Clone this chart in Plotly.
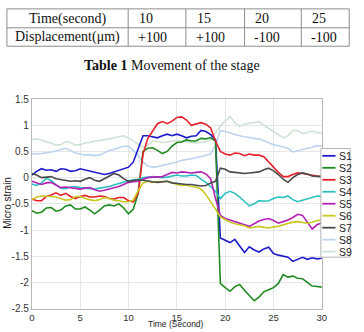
import plotly.graph_objects as go

# ---------------- data ----------------
time_s = [i * 0.5 for i in range(61)]

s1 = [0.05, 0.12, 0.17, 0.14, 0.15, 0.12, 0.17, 0.16, 0.12, 0.13, 0.17, 0.15, 0.13, 0.11, 0.09, 0.06,
      0.08, 0.11, 0.13, 0.17, 0.20, 0.30, 0.55, 0.80, 0.80, 0.78, 0.76, 0.80, 0.83, 0.80, 0.83, 0.80,
      0.76, 0.79, 0.80, 0.90, 0.88, 0.82, 0.72, -1.15, -1.20, -1.24, -1.18, -1.30, -1.43, -1.32, -1.38,
      -1.42, -1.36, -1.33, -1.45, -1.48, -1.50, -1.52, -1.60, -1.56, -1.52, -1.56, -1.53, -1.55, -1.54]
s2 = [-0.63, -0.68, -0.66, -0.58, -0.57, -0.64, -0.62, -0.54, -0.52, -0.60, -0.60, -0.56, -0.62, -0.69,
      -0.62, -0.54, -0.52, -0.54, -0.50, -0.58, -0.69, -0.60, -0.30, 0.50, 0.56, 0.57, 0.52, 0.46, 0.50,
      0.60, 0.67, 0.68, 0.72, 0.70, 0.70, 0.75, 0.74, 0.76, 0.70, -2.02, -2.10, -2.17, -2.08, -2.04, -2.15,
      -2.25, -2.35, -2.28, -2.18, -2.14, -2.10, -2.02, -1.85, -1.90, -1.88, -1.92, -1.93, -2.00, -2.07,
      -2.08, -2.09]
s3 = [-0.41, -0.44, -0.44, -0.36, -0.33, -0.29, -0.34, -0.30, -0.36, -0.40, -0.36, -0.34, -0.37, -0.37,
      -0.35, -0.36, -0.40, -0.41, -0.38, -0.38, -0.44, -0.46, -0.30, 0.45, 0.75, 0.90, 1.03, 1.07, 1.03,
      1.08, 1.15, 1.16, 1.10, 1.00, 1.02, 1.05, 1.02, 0.95, 0.70, 0.50, 0.45, 0.43, 0.47, 0.46, 0.42, 0.45,
      0.43, 0.43, 0.40, 0.30, 0.18, 0.10, 0.02, 0.02, 0.06, 0.09, 0.08, 0.06, 0.05, 0.03, 0.02]
s4 = [-0.12, -0.15, -0.10, -0.01, -0.06, -0.14, -0.20, -0.21, -0.18, -0.17, -0.19, -0.20, -0.21, -0.22,
      -0.20, -0.19, -0.17, -0.14, -0.11, -0.08, -0.06, -0.04, -0.03, 0.00, 0.01, 0.02, 0.01, 0.00, 0.01,
      0.03, 0.05, 0.03, 0.03, 0.05, 0.04, -0.03, -0.09, -0.17, -0.26, -0.40, -0.30, -0.26, -0.30, -0.37,
      -0.46, -0.54, -0.50, -0.44, -0.45, -0.44, -0.40, -0.37, -0.38, -0.35, -0.42, -0.46, -0.43, -0.41,
      -0.38, -0.35, -0.36]
s5 = [-0.07, -0.10, -0.13, -0.10, -0.09, -0.14, -0.19, -0.18, -0.19, -0.21, -0.22, -0.20, -0.19, -0.23,
      -0.26, -0.24, -0.22, -0.20, -0.17, -0.13, -0.09, -0.08, -0.07, -0.03, 0.00, 0.01, 0.02, 0.02, 0.06,
      0.10, 0.09, 0.11, 0.10, 0.09, 0.10, 0.11, 0.07, -0.02, -0.40, -0.72, -0.78, -0.81, -0.84, -0.87,
      -0.90, -0.93, -0.88, -0.83, -0.80, -0.78, -0.82, -0.87, -0.84, -0.81, -0.76, -0.70, -0.72, -0.85,
      -0.98, -0.90, -0.86]
s6 = [-0.42, -0.37, -0.35, -0.35, -0.36, -0.37, -0.40, -0.43, -0.42, -0.36, -0.36, -0.40, -0.42, -0.44,
      -0.42, -0.38, -0.40, -0.43, -0.44, -0.46, -0.46, -0.43, -0.25, -0.10, -0.07, -0.09, -0.08, -0.07,
      -0.07, -0.10, -0.13, -0.15, -0.14, -0.17, -0.18, -0.22, -0.32, -0.45, -0.60, -0.75, -0.80, -0.85,
      -0.88, -0.90, -0.92, -0.96, -0.94, -0.93, -0.95, -0.96, -0.94, -0.93, -0.90, -0.87, -0.85, -0.84,
      -0.86, -0.87, -0.85, -0.82, -0.81]
s7 = [0.08, 0.05, 0.00, 0.01, 0.02, -0.02, -0.04, -0.06, -0.07, -0.06, -0.07, -0.03, 0.00, -0.05, -0.07,
      -0.02, 0.03, 0.08, 0.05, -0.02, -0.07, -0.06, -0.04, -0.05, -0.07, -0.08, -0.09, -0.08, -0.07, -0.10,
      -0.11, -0.13, -0.13, -0.13, -0.14, -0.16, -0.15, -0.10, -0.07, 0.18, 0.16, 0.11, 0.10, 0.09, 0.08,
      0.09, 0.10, 0.11, 0.15, 0.18, 0.13, 0.06, -0.03, -0.09, 0.00, 0.06, 0.09, 0.07, 0.03, 0.02, 0.02]
s8 = [0.46, 0.45, 0.46, 0.47, 0.49, 0.51, 0.53, 0.56, 0.52, 0.47, 0.45, 0.43, 0.44, 0.42, 0.43, 0.47,
      0.52, 0.54, 0.57, 0.60, 0.60, 0.52, 0.42, 0.30, 0.22, 0.20, 0.21, 0.23, 0.25, 0.28, 0.30, 0.33, 0.34,
      0.36, 0.38, 0.40, 0.42, 0.45, 0.62, 0.90, 0.88, 0.85, 0.82, 0.80, 0.78, 0.76, 0.75, 0.74, 0.70, 0.67,
      0.63, 0.61, 0.58, 0.56, 0.49, 0.51, 0.53, 0.55, 0.58, 0.61, 0.60]
s9 = [0.73, 0.74, 0.72, 0.68, 0.66, 0.62, 0.63, 0.69, 0.67, 0.62, 0.63, 0.66, 0.67, 0.70, 0.71, 0.72,
      0.74, 0.76, 0.78, 0.80, 0.76, 0.70, 0.63, 0.58, 0.62, 0.70, 0.69, 0.67, 0.68, 0.70, 0.71, 0.70, 0.68,
      0.67, 0.66, 0.67, 0.69, 0.72, 0.85, 0.98, 1.08, 1.17, 1.05, 0.98, 1.02, 1.04, 1.05, 1.07, 1.00, 0.94,
      0.88, 0.83, 0.76, 0.80, 0.90, 0.90, 0.84, 0.86, 0.89, 0.86, 0.85]

series_names = ["S1", "S2", "S3", "S4", "S5", "S6", "S7", "S8", "S9"]
series_values = [s1, s2, s3, s4, s5, s6, s7, s8, s9]
series_colors = ["#1c1ccc", "#1f8a1f", "#e8202a", "#2cc0c0", "#b522b5",
                 "#c8c822", "#4a4a4a", "#bcd4f0", "#cfe2d4"]

x_ticks = [0, 5, 10, 15, 20, 25, 30]
y_ticks = [-2.5, -2, -1.5, -1, -0.5, 0, 0.5, 1, 1.5]
y_tick_labels = ["-2.5", "-2", "-1.5", "-1", "-0.5", "0", "0.5", "1", "1.5"]

table_header = "Time(second)"
table_row_label = "Displacement(μm)"
table_times = ["10", "15", "20", "25"]
table_disp = ["+100", "+100", "-100", "-100"]
caption_bold = "Table 1"
caption_rest = " Movement of the stage"

# ---------------- layout helpers ----------------
W, H = 364, 332


def px(x):
    return x / W


def py(y):
    return 1 - y / H


fig = go.Figure()

# draw light lines first so the coloured ones sit above
order = [7, 8, 0, 1, 2, 3, 4, 5, 6]
for i in order:
    fig.add_trace(go.Scatter(x=time_s, y=series_values[i], mode="lines", name=series_names[i],
                             line=dict(color=series_colors[i], width=1.6), showlegend=False))

shapes = []
annotations = []

# ---- table ----
tcol = [4, 128, 187, 247, 305, 354]
trow = [4, 23.5, 42.5]
bcol = "#8c8c8c"
for x in tcol:
    shapes.append(dict(type="line", xref="paper", yref="paper", x0=px(x), x1=px(x),
                       y0=py(trow[0]), y1=py(trow[-1]), line=dict(color=bcol, width=1)))
for y in trow:
    shapes.append(dict(type="line", xref="paper", yref="paper", x0=px(tcol[0]), x1=px(tcol[-1]),
                       y0=py(y), y1=py(y), line=dict(color=bcol, width=1)))
serif = "Liberation Serif, Times New Roman, serif"
annotations.append(dict(text=table_header, xref="paper", yref="paper", x=px(66), y=py(14),
                        showarrow=False, xanchor="center", yanchor="middle",
                        font=dict(family=serif, size=14, color="#111")))
annotations.append(dict(text=table_row_label, xref="paper", yref="paper", x=px(66), y=py(33),
                        showarrow=False, xanchor="center", yanchor="middle",
                        font=dict(family=serif, size=14, color="#111")))
for j, (tv, dv) in enumerate(zip(table_times, table_disp)):
    annotations.append(dict(text=tv, xref="paper", yref="paper", x=px(tcol[j + 1] + 9), y=py(14),
                            showarrow=False, xanchor="left", yanchor="middle",
                            font=dict(family=serif, size=14, color="#111")))
    annotations.append(dict(text=dv, xref="paper", yref="paper", x=px(tcol[j + 1] + 8), y=py(33),
                            showarrow=False, xanchor="left", yanchor="middle",
                            font=dict(family=serif, size=14, color="#111")))
annotations.append(dict(text="<b>" + caption_bold + "</b>" + caption_rest, xref="paper", yref="paper",
                        x=px(173), y=py(62), showarrow=False, xanchor="center", yanchor="middle",
                        font=dict(family=serif, size=14, color="#111")))

# ---- axis titles ----
sans = "Liberation Sans, Arial, sans-serif"
annotations.append(dict(text="Micro strain", xref="paper", yref="paper", x=px(5), y=py(204),
                        textangle=-90, showarrow=False, xanchor="center", yanchor="middle",
                        font=dict(family=sans, size=10, color="#222")))
annotations.append(dict(text="Time (Second)", xref="paper", yref="paper", x=px(177), y=py(323),
                        showarrow=False, xanchor="center", yanchor="top", borderpad=0,
                        font=dict(family=sans, size=8.5, color="#222")))

# ---- custom legend ----
lx0, lx1, ly0, ly1 = 325, 355, 148, 260
shapes.append(dict(type="rect", xref="paper", yref="paper", x0=px(lx0), x1=px(lx1), y0=py(ly1), y1=py(ly0),
                   line=dict(color="#b4b4b4", width=1), fillcolor="white", layer="above"))
for i, name in enumerate(series_names):
    yy = 155.5 + i * 12.35
    shapes.append(dict(type="line", xref="paper", yref="paper", x0=px(326.5), x1=px(340),
                       y0=py(yy), y1=py(yy), line=dict(color=series_colors[i], width=1.8)))
    annotations.append(dict(text=name, xref="paper", yref="paper", x=px(341.5), y=py(yy),
                            showarrow=False, xanchor="left", yanchor="middle",
                            font=dict(family=sans, size=10.5, color="#222")))

fig.update_layout(
    width=W, height=H, margin=dict(l=0, r=0, t=0, b=0),
    paper_bgcolor="white", plot_bgcolor="white",
    showlegend=False, shapes=shapes, annotations=annotations,
    xaxis=dict(domain=[px(29.5), px(326)], range=[0, 30], tickvals=x_ticks,
               showgrid=True, gridcolor="#e6e6e6", gridwidth=1, zeroline=False,
               showline=True, mirror=True, linecolor="#b8b8b8", linewidth=1, ticks="",
               ticklabelstandoff=0,
               tickfont=dict(family=sans, size=9.5, color="#333")),
    yaxis=dict(domain=[py(313), py(97)], range=[-2.5, 1.5], tickvals=y_ticks, ticktext=y_tick_labels,
               showgrid=True, gridcolor="#e6e6e6", gridwidth=1, zeroline=False,
               showline=True, mirror=True, linecolor="#b8b8b8", linewidth=1, ticks="",
               tickfont=dict(family=sans, size=10, color="#333")),
)

fig.write_html("out.html")
